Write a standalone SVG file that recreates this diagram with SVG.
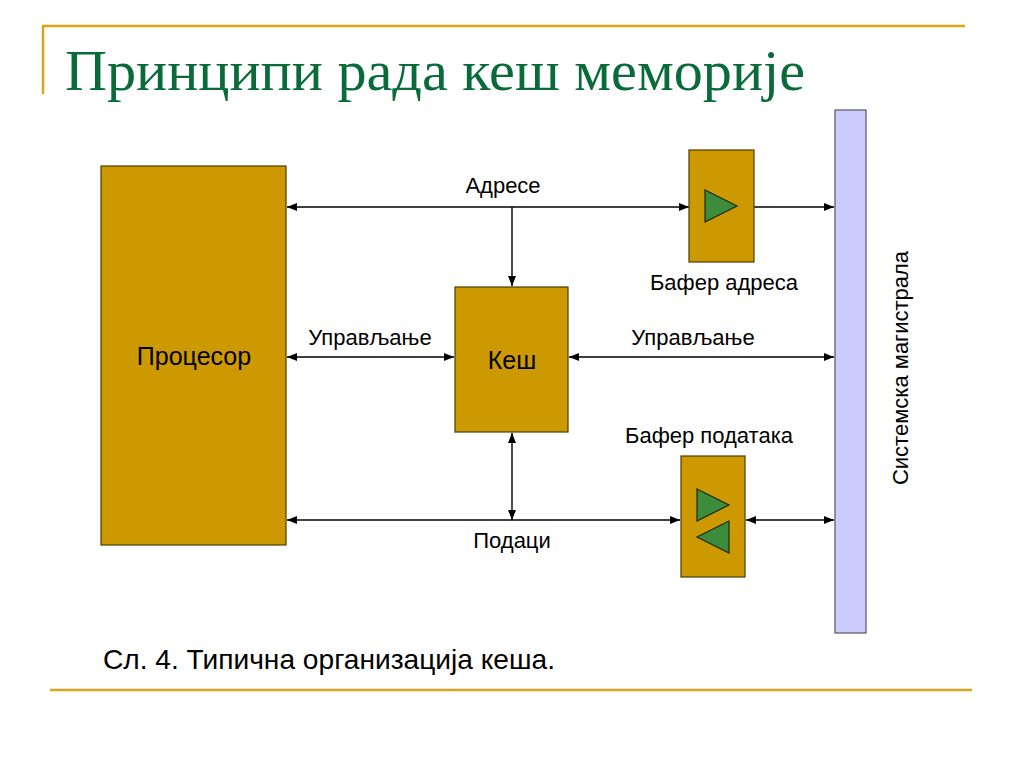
<svg xmlns="http://www.w3.org/2000/svg" width="1024" height="768" viewBox="0 0 1024 768">
<defs>
<style>
.gold{fill:#CC9900;stroke:#4d3d00;stroke-width:1.2}
.tri{fill:#3C8C3C;stroke:#1a2a10;stroke-width:1.2}
.bus{fill:#CCCCFF;stroke:#555566;stroke-width:1.2}
.rule{stroke:#D9A520;stroke-width:2.5;fill:none}
.ln{stroke:#000;stroke-width:1.4;fill:none;marker-start:url(#ah);marker-end:url(#ah)}
.one{stroke:#000;stroke-width:1.4;fill:none;marker-end:url(#ah)}
.lbl{font-family:"Liberation Sans",Arial,sans-serif;font-size:22px;fill:#000;text-anchor:middle}
.big{font-family:"Liberation Sans",Arial,sans-serif;font-size:25px;fill:#000;text-anchor:middle}
</style>
<marker id="ah" viewBox="0 0 10 8" refX="10" refY="4" markerWidth="10" markerHeight="8" markerUnits="userSpaceOnUse" orient="auto-start-reverse">
<path d="M0,0 L10,4 L0,8 Z" fill="#000"/>
</marker>
</defs>
<rect width="1024" height="768" fill="#fff"/>
<g id="frame">
<line class="rule" x1="42" y1="26" x2="965" y2="26"/>
<line class="rule" x1="43" y1="26" x2="43" y2="94"/>
<line class="rule" x1="50" y1="690" x2="972" y2="690"/>
</g>
<text id="title" x="65" y="90" font-family="'Liberation Serif','Times New Roman',serif" font-size="56" fill="#0A6B3A" textLength="740" lengthAdjust="spacingAndGlyphs">Принципи рада кеш меморије</text>
<g id="connectors">
<line class="ln" x1="287" y1="207" x2="689" y2="207"/>
<line class="one" x1="754" y1="207" x2="834" y2="207"/>
<line class="one" x1="512" y1="207" x2="512" y2="286"/>
<line class="ln" x1="287" y1="357" x2="454" y2="357"/>
<line class="ln" x1="569" y1="357" x2="834" y2="357"/>
<line class="ln" x1="512" y1="433" x2="512" y2="520"/>
<line class="ln" x1="287" y1="520" x2="680" y2="520"/>
<line class="ln" x1="746" y1="520" x2="834" y2="520"/>
</g>
<g id="processor">
<rect class="gold" x="101" y="166" width="185" height="379"/>
<text class="big" x="194" y="365">Процесор</text>
</g>
<g id="cache">
<rect class="gold" x="455" y="287" width="113" height="145"/>
<text class="big" x="512" y="369">Кеш</text>
</g>
<g id="address-buffer">
<rect class="gold" x="689" y="150" width="65" height="112"/>
<polygon class="tri" points="705,190 737,206 705,222"/>
<text class="lbl" x="724" y="290">Бафер адреса</text>
</g>
<g id="data-buffer">
<rect class="gold" x="681" y="456" width="64" height="121"/>
<polygon class="tri" points="697,489 729,505 697,521"/>
<polygon class="tri" points="729,521 697,537 729,553"/>
<text class="lbl" x="709" y="443">Бафер података</text>
</g>
<g id="system-bus">
<rect class="bus" x="835" y="110" width="31" height="523"/>
<text class="lbl" transform="translate(908,368) rotate(-90)" x="0" y="0" font-size="22.5">Системска магистрала</text>
</g>
<g id="labels">
<text class="lbl" x="503" y="193">Адресе</text>
<text class="lbl" x="370" y="345">Управљање</text>
<text class="lbl" x="693" y="345">Управљање</text>
<text class="lbl" x="512" y="548">Подаци</text>
</g>
<text id="caption" x="103" y="669" font-family="'Liberation Sans',Arial,sans-serif" font-size="28" fill="#000" textLength="452" lengthAdjust="spacingAndGlyphs">Сл. 4. Типична организација кеша.</text>
</svg>
